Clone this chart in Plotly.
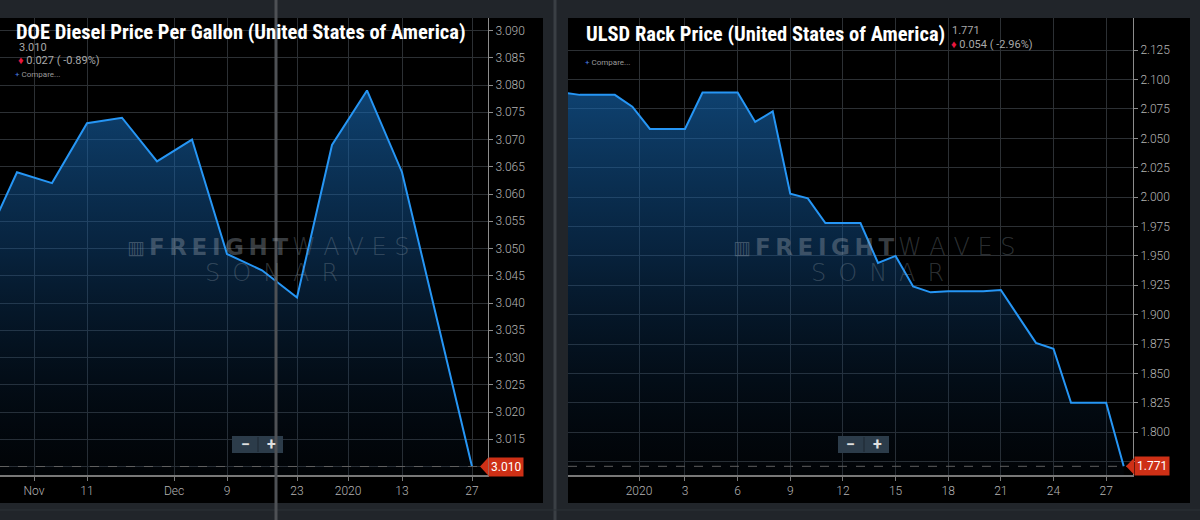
import plotly.graph_objects as go

# weekly DOE on-highway diesel, USD per gallon
doe_dates = ["2019-10-21", "2019-10-28", "2019-11-04", "2019-11-11", "2019-11-18",
             "2019-11-25", "2019-12-02", "2019-12-09", "2019-12-16", "2019-12-23",
             "2019-12-30", "2020-01-06", "2020-01-13", "2020-01-20", "2020-01-27"]
doe_price = [3.050, 3.064, 3.062, 3.073, 3.074, 3.066, 3.070, 3.049, 3.046, 3.041,
             3.069, 3.079, 3.064, 3.037, 3.010]
doe_tick_dates = ["2019-10-31 09:36", "2019-11-11", "2019-11-28 09:36", "2019-12-09",
                  "2019-12-23", "2020-01-02 05:00", "2020-01-13", "2020-01-27"]
doe_tick_text = ["Nov", "11", "Dec", "9", "23", "2020", "13", "27"]
doe_y_ticks = [3.010, 3.015, 3.020, 3.025, 3.030, 3.035, 3.040, 3.045, 3.050,
               3.055, 3.060, 3.065, 3.070, 3.075, 3.080, 3.085, 3.090]

# daily ULSD rack price
ulsd_dates = ["2019-12-27", "2019-12-28", "2019-12-29", "2019-12-30", "2019-12-31",
              "2020-01-01", "2020-01-02", "2020-01-03", "2020-01-04", "2020-01-05",
              "2020-01-06", "2020-01-07", "2020-01-08", "2020-01-09", "2020-01-10",
              "2020-01-11", "2020-01-12", "2020-01-13", "2020-01-14", "2020-01-15",
              "2020-01-16", "2020-01-17", "2020-01-18", "2020-01-19", "2020-01-20",
              "2020-01-21", "2020-01-22", "2020-01-23", "2020-01-24", "2020-01-25",
              "2020-01-26", "2020-01-27", "2020-01-28"]
ulsd_price = [2.089, 2.087, 2.087, 2.087, 2.077, 2.058, 2.058, 2.058, 2.089, 2.089,
              2.089, 2.064, 2.073, 2.003, 1.999, 1.978, 1.978, 1.978, 1.944, 1.950,
              1.924, 1.919, 1.920, 1.920, 1.920, 1.921, 1.898, 1.876, 1.871, 1.825,
              1.825, 1.825, 1.771]
ulsd_tick_dates = ["2019-12-31 09:06", "2020-01-03", "2020-01-06", "2020-01-09",
                   "2020-01-12", "2020-01-15", "2020-01-18", "2020-01-21",
                   "2020-01-24", "2020-01-27"]
ulsd_tick_text = ["2020", "3", "6", "9", "12", "15", "18", "21", "24", "27"]
ulsd_y_ticks = [1.775, 1.800, 1.825, 1.850, 1.875, 1.900, 1.925, 1.950, 1.975,
                2.000, 2.025, 2.050, 2.075, 2.100, 2.125]

doe_yrange = [3.00844, 3.0923]
ulsd_yrange = [1.7636, 2.1524]

W, H = 1200, 520


def px(x):
    return x / W


def py(y):
    return 1 - y / H


def ylabels(vals):
    # the lowest tick sits under the last-price tag, so leave its label blank
    return [""] + [f"{v:.3f}" for v in vals[1:]]


LINE = "rgb(38,150,245)"
GRID = "rgb(44,48,52)"
TICKFONT = dict(family="Roboto", size=12, color="#b4b4b4", weight=300)
TITLEFONT = dict(family="Roboto Condensed, Liberation Sans Narrow, Roboto", size=20.5,
                 color="white", weight="bold")
SMALL = dict(family="Roboto", size=11, color="#a8a8a8")
TAG = "rgb(206,48,22)"


def area(x, y, xa, ya, yr):
    return go.Scatter(
        x=x, y=y, xaxis=xa, yaxis=ya, mode="lines",
        line=dict(color=LINE, width=2),
        fill="tozeroy",
        fillgradient=dict(type="vertical", start=yr[0], stop=yr[1],
                          colorscale=[[0, "rgba(8,30,55,0.12)"],
                                      [0.5, "rgba(18,85,150,0.42)"],
                                      [1, "rgba(26,118,200,0.7)"]]),
        hoverinfo="skip", showlegend=False,
    )


fig = go.Figure()
fig.add_trace(area(doe_dates, doe_price, "x", "y", doe_yrange))
fig.add_trace(area(ulsd_dates, ulsd_price, "x2", "y2", ulsd_yrange))

ydom = [py(475), py(18)]
xaxis_common = dict(type="date", showgrid=True, gridcolor=GRID, gridwidth=1,
                    showline=True, linecolor="rgb(120,120,120)", linewidth=2,
                    ticks="outside", ticklen=4, tickcolor="rgb(120,120,120)",
                    tickfont=TICKFONT, zeroline=False, fixedrange=True)
yaxis_common = dict(side="right", showgrid=True, gridcolor=GRID, gridwidth=1,
                    showline=True, linecolor="rgb(140,140,140)", linewidth=1,
                    ticks="outside", ticklen=4, tickcolor="rgb(140,140,140)",
                    tickfont=TICKFONT, zeroline=False, fixedrange=True)

fig.update_layout(
    width=W, height=H,
    margin=dict(l=0, r=0, t=0, b=0),
    paper_bgcolor="rgb(33,37,42)",
    plot_bgcolor="black",
    showlegend=False,
    xaxis=dict(xaxis_common, domain=[0, px(488)], anchor="y",
               range=["2019-10-24 14:24", "2020-01-30 04:48"],
               tickvals=doe_tick_dates, ticktext=doe_tick_text),
    yaxis=dict(yaxis_common, domain=ydom, anchor="x", range=doe_yrange,
               tickvals=doe_y_ticks, ticktext=ylabels(doe_y_ticks)),
    xaxis2=dict(xaxis_common, domain=[px(568), px(1133)], anchor="y2",
                range=["2019-12-27 08:00", "2020-01-28 12:45"],
                tickvals=ulsd_tick_dates, ticktext=ulsd_tick_text),
    yaxis2=dict(yaxis_common, domain=ydom, anchor="x2", range=ulsd_yrange,
                tickvals=ulsd_y_ticks, ticktext=ylabels(ulsd_y_ticks)),
)

shapes = [
    # black panels
    dict(type="rect", xref="paper", yref="paper", x0=px(0), x1=px(543), y0=py(503), y1=py(18),
         fillcolor="black", line=dict(width=0), layer="below"),
    dict(type="rect", xref="paper", yref="paper", x0=px(568), x1=px(1190), y0=py(503), y1=py(18),
         fillcolor="black", line=dict(width=0), layer="below"),
    # divider between panels
    dict(type="line", xref="paper", yref="paper", x0=px(555), x1=px(555), y0=0, y1=1,
         line=dict(color="rgb(58,63,68)", width=3), layer="below"),
    dict(type="line", xref="paper", yref="paper", x0=0, x1=1, y0=py(510), y1=py(510),
         line=dict(color="rgb(45,50,55)", width=1), layer="below"),
    # last-value dashed lines
    dict(type="line", xref="x domain", yref="y", x0=0, x1=1, y0=doe_price[-1], y1=doe_price[-1],
         line=dict(color="rgb(95,95,95)", width=1, dash="dash")),
    dict(type="line", xref="x2 domain", yref="y2", x0=0, x1=1, y0=ulsd_price[-1], y1=ulsd_price[-1],
         line=dict(color="rgb(95,95,95)", width=1, dash="dash")),
    # price tag arrows
    dict(type="path", xref="paper", yref="y",
         path=f"M {px(480)},{doe_price[-1]} L {px(488)},{doe_price[-1] + 0.0016} "
              f"L {px(488)},{doe_price[-1] - 0.0016} Z",
         fillcolor=TAG, line=dict(width=0)),
    dict(type="path", xref="paper", yref="y2",
         path=f"M {px(1126)},{ulsd_price[-1]} L {px(1134)},{ulsd_price[-1] + 0.007} "
              f"L {px(1134)},{ulsd_price[-1] - 0.007} Z",
         fillcolor=TAG, line=dict(width=0)),
]

# zoom buttons
for bx in (232, 838):
    shapes.append(dict(type="rect", xref="paper", yref="paper", x0=px(bx), x1=px(bx + 51),
                       y0=py(453), y1=py(436), fillcolor="rgb(44,60,74)",
                       line=dict(width=0)))
    shapes.append(dict(type="line", xref="paper", yref="paper", x0=px(bx + 26), x1=px(bx + 26),
                       y0=py(452), y1=py(437), line=dict(color="rgb(28,38,48)", width=1)))

# crosshair
shapes.append(dict(type="line", xref="paper", yref="paper", x0=px(276), x1=px(276), y0=0, y1=1,
                   line=dict(color="rgb(78,81,85)", width=3)))

annotations = []


def note(x, y, text, font, xanchor="left", **kw):
    annotations.append(dict(x=px(x), y=py(y), xref="paper", yref="paper", text=text,
                            showarrow=False, xanchor=xanchor, yanchor="middle", font=font, **kw))


WM = "rgba(150,160,172,0.38)"
WM_THIN = "rgba(150,160,172,0.3)"
for wx in (125, 731):
    note(wx, 247, "▥", dict(family="DejaVu Sans", size=19, color=WM))
    note(wx + 22, 247, "\u2009".join("FREIGHT"), dict(family="DejaVu Sans", size=23, color=WM, weight="bold"))
    note(wx + 165, 247, " ".join("WAVES"), dict(family="DejaVu Sans", size=24, color=WM_THIN, weight=200))
    note(wx + 78, 273, "\u2002".join("SONAR"), dict(family="DejaVu Sans", size=24, color=WM_THIN, weight=200))

note(14, 32, "DOE Diesel Price Per Gallon (United States of America)", TITLEFONT)
note(17, 47, f"{doe_price[-1]:.3f}", SMALL)
note(16, 60, f"<span style='color:#e8173f'>♦</span> {doe_price[-2] - doe_price[-1]:.3f} "
     f"( {(doe_price[-1] / doe_price[-2] - 1) * 100:.2f}%)", SMALL)
note(13, 75, "<span style='color:#4a7fe0'>+</span> Compare...", dict(family="Roboto", size=8, color="#9a9a9a"))

note(584, 34, "ULSD Rack Price (United States of America)", TITLEFONT)
note(950, 30, f"{ulsd_price[-1]:.3f}", SMALL)
note(949, 44, f"<span style='color:#e8173f'>♦</span> {ulsd_price[-2] - ulsd_price[-1]:.3f} "
     f"( {(ulsd_price[-1] / ulsd_price[-2] - 1) * 100:.2f}%)", SMALL)
note(583, 62, "<span style='color:#4a7fe0'>+</span> Compare...", dict(family="Roboto", size=8, color="#9a9a9a"))

for bx in (232, 838):
    note(bx + 13, 444, "−", dict(family="Roboto", size=16, color="#e0e0e0", weight="bold"), xanchor="center")
    note(bx + 39, 444, "+", dict(family="Roboto", size=16, color="#e0e0e0", weight="bold"), xanchor="center")

# last price tags
annotations.append(dict(x=px(488), y=doe_price[-1], xref="paper", yref="y",
                        text=f"{doe_price[-1]:.3f}", showarrow=False, xanchor="left",
                        yanchor="middle", bgcolor=TAG, borderpad=2,
                        font=dict(family="Roboto", size=12, color="white")))
annotations.append(dict(x=px(1134), y=ulsd_price[-1], xref="paper", yref="y2",
                        text=f"{ulsd_price[-1]:.3f}", showarrow=False, xanchor="left",
                        yanchor="middle", bgcolor=TAG, borderpad=2,
                        font=dict(family="Roboto", size=12, color="white")))

fig.update_layout(shapes=shapes, annotations=annotations)

fig.write_html("out.html", config={"displayModeBar": False},
               post_script="document.body.style.margin='0';")
